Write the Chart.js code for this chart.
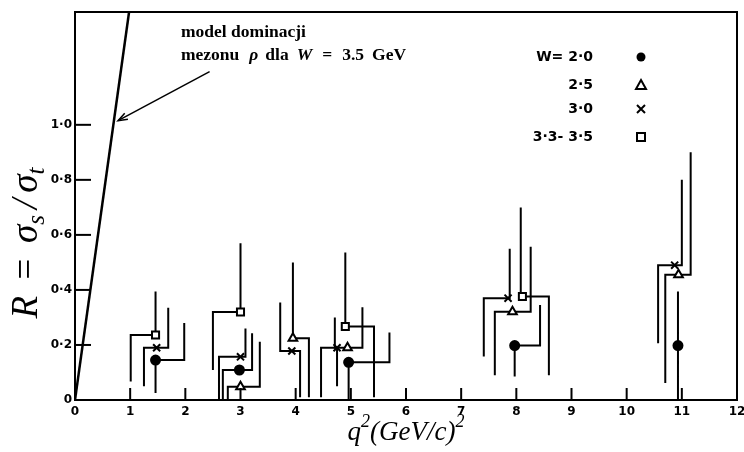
<!DOCTYPE html>
<html>
<head>
<meta charset="utf-8">
<script src="https://cdn.jsdelivr.net/npm/chart.js@4.4.0/dist/chart.umd.min.js"></script>
<style>
  body { margin: 0; background: #fff; }
</style>
</head>
<body>
<canvas id="my-chart" width="744" height="452"></canvas>
<script>
'use strict'
/// axes ///
const xMin = 0, xMax = 12, yMin = 0, yMax = 1.41
const xTickVals = [0, 1, 2, 3, 4, 5, 6, 7, 8, 9, 10, 11, 12]
const yTickVals = [0, 0.2, 0.4, 0.6, 0.8, 1.0]

/// model line (rho dominance, W = 3.5 GeV) ///
const modelX = [0, 0.98]
const modelY = [0, 1.41]
// arrow pointing at the model line (tail -> head)
const arrowX = [2.44, 0.78]
const arrowY = [1.193, 1.015]

/// data: marker, lower bar (x, bottom), upper bar (x, top) ///
// W = 2.0  filled circle
const w20X = [1.46, 2.98, 4.96, 7.97, 10.93]
const w20Y = [0.145, 0.109, 0.137, 0.198, 0.198]
const w20LoX = [1.46, 2.68, 4.96, 7.97, 10.93]
const w20Lo = [0.025, 0, 0, 0.085, 0]
const w20HiX = [1.98, 3.21, 5.70, 8.43, 10.93]
const w20Hi = [0.28, 0.243, 0.245, 0.345, 0.394]

// W = 2.5  open triangle
const w25X = [3.0, 3.95, 4.94, 7.93, 10.94]
const w25Y = [0.048, 0.224, 0.19, 0.321, 0.455]
const w25LoX = [2.77, 4.24, 4.46, 7.61, 10.70]
const w25Lo = [0, 0.01, 0.01, 0.09, 0.062]
const w25HiX = [3.35, 3.95, 5.21, 8.26, 11.16]
const w25Hi = [0.212, 0.50, 0.337, 0.557, 0.90]

// W = 3.0  cross
const w30X = [1.48, 3.0, 3.93, 4.75, 7.85, 10.87]
const w30Y = [0.19, 0.157, 0.178, 0.19, 0.37, 0.49]
const w30LoX = [1.25, 2.61, 4.08, 4.75, 7.41, 10.57]
const w30Lo = [0.05, 0, 0.01, 0.05, 0.158, 0.206]
const w30HiX = [1.69, 3.09, 3.72, 4.71, 7.88, 11.0]
const w30Hi = [0.335, 0.26, 0.354, 0.30, 0.55, 0.80]

// W = 3.3 - 3.5  open square
const w33X = [1.46, 3.0, 4.90, 8.11]
const w33Y = [0.236, 0.32, 0.267, 0.376]
const w33LoX = [1.01, 2.50, 5.42, 8.59]
const w33Lo = [0.067, 0.109, 0.01, 0.09]
const w33HiX = [1.46, 3.0, 4.90, 8.08]
const w33Hi = [0.394, 0.57, 0.536, 0.70]

const seriesLabels = ['W= 2·0', '2·5', '3·0', '3·3- 3·5']
const seriesStyles = ['circle', 'triangle', 'crossRot', 'rect']

let ctx = document.getElementById('my-chart').getContext('2d')

function points(xs, ys) {
  let out = []
  for (let i = 0; i < xs.length; i++) out.push({ x: xs[i], y: ys[i] })
  return out
}

// staircase: lower bar -> along the value -> upper bar, gap after each point
function stairs(loX, lo, ys, hiX, hi) {
  let out = []
  for (let i = 0; i < ys.length; i++) {
    out.push({ x: loX[i], y: lo[i] }, { x: loX[i], y: ys[i] },
      { x: hiX[i], y: ys[i] }, { x: hiX[i], y: hi[i] }, { x: hiX[i], y: null })
  }
  return out
}

function lineSet(data, width) {
  return {
    data: data, showLine: true, borderColor: '#000', borderWidth: width,
    pointRadius: 0, spanGaps: false, order: 2
  }
}

function markerSet(xs, ys, style) {
  let filled = style === 'circle'
  return {
    data: points(xs, ys), showLine: false, pointStyle: style,
    pointRadius: style === 'circle' ? 4.5 : 5, borderWidth: 2,
    borderColor: '#000', backgroundColor: filled ? '#000' : '#fff', order: 1
  }
}

function tickText(v) {
  if (Math.abs(v) < 1e-9) return '0'
  if (v > 1.05) return ''
  return v.toFixed(1).replace('.', '·')
}

// draws pieces of text [text, sub/sup, gap after] centred on 0
function drawParts(c, parts, size, family) {
  let fontOf = p => 'italic ' + (p[1] ? Math.round(size * 0.68) : size) + 'px ' + family
  let widths = parts.map(p => { c.font = fontOf(p); return c.measureText(p[0]).width + (p[2] || 0) })
  let total = widths.reduce((a, b) => a + b, 0)
  let x = -total / 2
  parts.forEach((p, i) => {
    c.font = fontOf(p)
    let dy = p[1] === 'sub' ? size * 0.28 : p[1] === 'sup' ? -size * 0.38 : 0
    c.fillText(p[0], x, dy)
    x += widths[i]
  })
}

function legendMarker(c, style, x, y) {
  c.lineWidth = 2
  c.strokeStyle = '#000'
  c.fillStyle = '#000'
  c.beginPath()
  if (style === 'circle') {
    c.arc(x, y, 4.5, 0, Math.PI * 2); c.fill()
  } else if (style === 'triangle') {
    c.moveTo(x, y - 5); c.lineTo(x + 5, y + 4); c.lineTo(x - 5, y + 4); c.closePath(); c.stroke()
  } else if (style === 'crossRot') {
    c.moveTo(x - 4, y - 4); c.lineTo(x + 4, y + 4); c.moveTo(x + 4, y - 4); c.lineTo(x - 4, y + 4); c.stroke()
  } else {
    c.rect(x - 4, y - 4, 8, 8); c.stroke()
  }
}

const decorPlugin = {
  id: 'decor',
  afterDraw(chart) {
    let c = chart.ctx
    let a = chart.chartArea
    let xs = chart.scales.x, ys = chart.scales.y
    c.save()
    c.strokeStyle = '#000'
    c.fillStyle = '#000'
    // frame
    c.lineWidth = 2
    c.strokeRect(a.left, a.top, a.right - a.left, a.bottom - a.top)
    // inward tick marks
    xTickVals.forEach(v => {
      if (v === xMin || v === xMax) return
      let px = xs.getPixelForValue(v)
      c.beginPath(); c.moveTo(px, a.bottom); c.lineTo(px, a.bottom - 12); c.stroke()
    })
    yTickVals.forEach(v => {
      if (v === yMin) return
      let py = ys.getPixelForValue(v)
      c.beginPath(); c.moveTo(a.left, py); c.lineTo(a.left + 16, py); c.stroke()
    })
    // arrow head
    let hx = xs.getPixelForValue(arrowX[1]), hy = ys.getPixelForValue(arrowY[1])
    let tx = xs.getPixelForValue(arrowX[0]), ty = ys.getPixelForValue(arrowY[0])
    let ang = Math.atan2(hy - ty, hx - tx)
    c.lineWidth = 1.5
    c.beginPath()
    c.moveTo(hx - 10 * Math.cos(ang - 0.35), hy - 10 * Math.sin(ang - 0.35))
    c.lineTo(hx, hy)
    c.lineTo(hx - 10 * Math.cos(ang + 0.35), hy - 10 * Math.sin(ang + 0.35))
    c.stroke()
    // annotation text
    c.textBaseline = 'alphabetic'
    c.textAlign = 'left'
    let fam = '"Liberation Serif", "DejaVu Serif", serif'
    c.font = 'bold 17.5px ' + fam
    c.fillText('model dominacji', a.left + 106, a.top + 25)
    // [text, style, gap after]
    let segs = [['mezonu', 'bold', 10], ['ρ', 'italic bold', 7], ['dla', 'bold', 8],
      ['W', 'italic bold', 10], ['=', 'bold', 10], ['3.5', 'bold', 8], ['GeV', 'bold', 0]]
    let sx = a.left + 106
    segs.forEach(s => {
      c.font = s[1] + ' 17.5px ' + fam
      c.fillText(s[0], sx, a.top + 48)
      sx += c.measureText(s[0]).width + s[2]
    })
    // legend
    c.font = 'bold 14px "DejaVu Sans", sans-serif'
    c.textAlign = 'right'
    c.textBaseline = 'middle'
    let rows = [45, 73, 97, 125]
    seriesLabels.forEach((lab, i) => {
      c.fillText(lab, a.right - 144, a.top + rows[i])
      legendMarker(c, seriesStyles[i], a.right - 96, a.top + rows[i])
    })
    // axis titles
    c.textAlign = 'left'
    c.textBaseline = 'middle'
    c.save()
    c.translate(27, 243)
    c.rotate(-Math.PI / 2)
    drawParts(c, [['R', '', 14], ['=', '', 14], ['σ', ''], ['s', 'sub', 6], ['/', '', 6], ['σ', ''], ['t', 'sub']], 37, fam)
    c.restore()
    c.save()
    c.translate((a.left + a.right) / 2, 433)
    drawParts(c, [['q', ''], ['2', 'sup'], ['(GeV/c)', ''], ['2', 'sup']], 27, fam)
    c.restore()
    c.restore()
  }
}

let chartObject = {
  type: 'scatter',
  data: {
    datasets: [
      lineSet(points(modelX, modelY), 2.5),
      lineSet(points(arrowX, arrowY), 1.5),
      lineSet(stairs(w20LoX, w20Lo, w20Y, w20HiX, w20Hi), 2),
      lineSet(stairs(w25LoX, w25Lo, w25Y, w25HiX, w25Hi), 2),
      lineSet(stairs(w30LoX, w30Lo, w30Y, w30HiX, w30Hi), 2),
      lineSet(stairs(w33LoX, w33Lo, w33Y, w33HiX, w33Hi), 2),
      markerSet(w20X, w20Y, 'circle'),
      markerSet(w25X, w25Y, 'triangle'),
      markerSet(w30X, w30Y, 'crossRot'),
      markerSet(w33X, w33Y, 'rect')
    ]
  },
  options: {
    responsive: false,
    animation: false,
    layout: { padding: { left: 0, top: 12, right: 7, bottom: 0 } },
    plugins: { legend: { display: false }, tooltip: { enabled: false } },
    scales: {
      x: {
        type: 'linear', min: xMin, max: xMax,
        afterFit(scale) { scale.height = 52; scale.paddingLeft = 0; scale.paddingRight = 0 },
        afterBuildTicks(scale) { scale.ticks = xTickVals.map(v => ({ value: v })) },
        grid: { display: false, drawTicks: false },
        border: { display: false },
        ticks: {
          color: '#000', padding: 5, maxRotation: 0, autoSkip: false,
          font: { family: 'DejaVu Sans', weight: 'bold', size: 12 },
          callback: v => String(v)
        }
      },
      y: {
        type: 'linear', min: yMin, max: yMax,
        afterFit(scale) { scale.width = 75; scale.paddingTop = 0; scale.paddingBottom = 0 },
        afterBuildTicks(scale) { scale.ticks = yTickVals.map(v => ({ value: v })) },
        grid: { display: false, drawTicks: false },
        border: { display: false },
        ticks: {
          color: '#000', padding: 3, autoSkip: false,
          font: { family: 'DejaVu Sans', weight: 'bold', size: 12 },
          callback: v => tickText(v)
        }
      }
    }
  },
  plugins: [decorPlugin]
}

const myChart = new Chart(ctx, chartObject)
</script>
</body>
</html>
